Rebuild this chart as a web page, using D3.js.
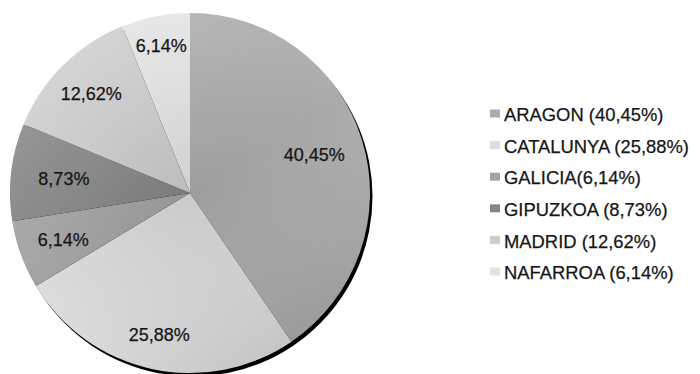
<!DOCTYPE html>
<html><head><meta charset="utf-8">
<script src="https://cdn.jsdelivr.net/npm/d3@7"></script>
<style>body{margin:0;background:#fff}svg{display:block}</style>
</head><body>
<svg id="c" width="700" height="374"></svg>
<script>
const categories = ["ARAGON","CATALUNYA","GALICIA","GIPUZKOA","MADRID","NAFARROA"];
const values = [40.45, 25.88, 6.14, 8.73, 12.62, 6.14];
const valueLabels = ["40,45%","25,88%","6,14%","8,73%","12,62%","6,14%"];
const legendLabels = ["ARAGON (40,45%)","CATALUNYA (25,88%)","GALICIA(6,14%)","GIPUZKOA (8,73%)","MADRID (12,62%)","NAFARROA (6,14%)"];
const colors = ["#ababab","#dcdcdc","#a4a4a4","#868686","#cccccc","#e3e3e3"];

const svg = d3.select("#c");
const cx = 190, cy = 193, R = 180;
const defs = svg.append("defs");
const lg = defs.append("linearGradient").attr("id","shade")
  .attr("x1","0.2").attr("y1","0").attr("x2","0.8").attr("y2","1");
lg.append("stop").attr("offset","0").attr("stop-color","#fff").attr("stop-opacity",0.18);
lg.append("stop").attr("offset","0.5").attr("stop-color","#fff").attr("stop-opacity",0);
lg.append("stop").attr("offset","1").attr("stop-color","#000").attr("stop-opacity",0.14);
const rg = defs.append("radialGradient").attr("id","rad");
rg.append("stop").attr("offset","0").attr("stop-color","#000").attr("stop-opacity",0.08);
rg.append("stop").attr("offset","1").attr("stop-color","#000").attr("stop-opacity",0);
const f = defs.append("filter").attr("id","blur").attr("x","-10%").attr("y","-10%").attr("width","120%").attr("height","120%");
f.append("feGaussianBlur").attr("stdDeviation",0.7);

const g = svg.append("g").attr("transform",`translate(${cx},${cy})`);
// shadow
g.append("circle").attr("cx",2.5).attr("cy",3.5).attr("r",R).attr("fill","#000").attr("filter","url(#blur)");

const pie = d3.pie().sort(null).value(d=>d)(values);
const arc = d3.arc().innerRadius(0).outerRadius(R);
g.selectAll("path.s").data(pie).join("path").attr("class","s")
  .attr("d",arc).attr("fill",(d,i)=>colors[i]);
g.append("circle").attr("r",R).attr("fill","url(#rad)");
g.append("circle").attr("r",R).attr("fill","url(#shade)");

const labelR = [130,145,135,127,140,150];
g.selectAll("text.l").data(pie).join("text").attr("class","l")
  .attr("transform",(d,i)=>{const a=(d.startAngle+d.endAngle)/2;const r=labelR[i];return `translate(${Math.sin(a)*r},${-Math.cos(a)*r})`;})
  .attr("text-anchor","middle").attr("dy","0.36em")
  .attr("font-family","Liberation Sans, Arial, sans-serif").attr("font-size",18).attr("fill","#161616")
  .attr("stroke","#161616").attr("stroke-width",0.25)
  .text((d,i)=>valueLabels[i]);

const lgd = svg.append("g");
const y0 = 114.5, dy = 31.6;
categories.forEach((c,i)=>{
  const y = y0 + i*dy;
  lgd.append("rect").attr("x",490).attr("y",y-5).attr("width",10).attr("height",8).attr("fill",colors[i]);
  lgd.append("text").attr("x",504).attr("y",y).attr("dy","0.36em")
    .attr("font-family","Liberation Sans, Arial, sans-serif").attr("font-size",18.4).attr("fill","#161616")
    .attr("stroke","#161616").attr("stroke-width",0.25)
    .text(legendLabels[i]);
});
</script>
</body></html>
